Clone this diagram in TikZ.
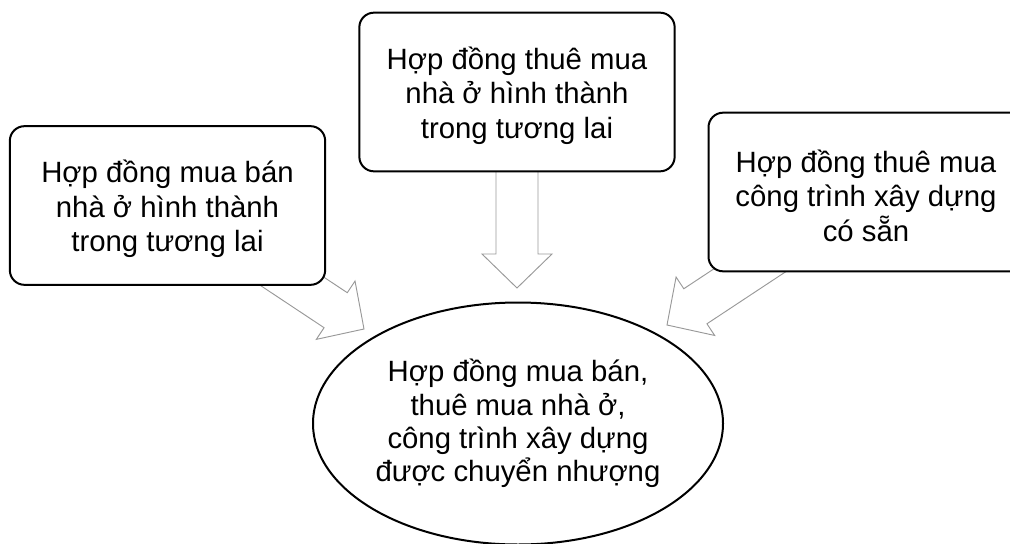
\documentclass[tikz,border=0pt]{standalone}
\usepackage{fontspec}
\setmainfont{Liberation Sans}
\usetikzlibrary{calc,shapes.geometric,backgrounds}
\tikzset{
  box/.style={draw=black, line width=1.5pt, rounded corners=11pt, fill=white,
    minimum width=236.5pt, minimum height=119pt, inner sep=0pt},
  boxtext/.style={align=center, inner sep=0pt, yshift=-2.6pt,
    font=\fontsize{22pt}{25.9pt}\selectfont},
  oval/.style={draw=black, line width=1.5pt, ellipse, fill=white,
    minimum width=307.5pt, minimum height=181.5pt, inner sep=0pt, align=center,
    font=\fontsize{22pt}{25pt}\selectfont},
  blockarrow/.style={draw=black!40, line width=0.7pt, fill=white, line join=miter}
}
\newcommand\blockarrow[2]{%
  \coordinate (hb) at ($(#2)!25.5pt!(#1)$);
  \draw[blockarrow]
    ($(#1)!15.75pt!90:(#2)$) --
    ($(hb)!15.75pt!-90:(#1)$) --
    ($(hb)!26.25pt!-90:(#1)$) --
    (#2) --
    ($(hb)!26.25pt!90:(#1)$) --
    ($(hb)!15.75pt!90:(#1)$) --
    ($(#1)!15.75pt!-90:(#2)$) -- cycle;
}
\begin{document}
\begin{tikzpicture}[x=0.75pt,y=-0.75pt]
\useasboundingbox (0,0) rectangle (1010,543);

\node[box, label={[boxtext]center:Hợp đồng mua bán\\nhà ở hình thành\\trong tương lai}] (left) at (167.5,205.5) {};
\node[box, label={[boxtext]center:Hợp đồng thuê mua\\nhà ở hình thành\\trong tương lai}] (top) at (517,92) {};
\node[box, minimum width=240pt, label={[boxtext, xshift=-1.9pt]center:Hợp đồng thuê mua\\công trình xây dựng\\có sẵn}] (right) at (868.5,192) {};
\node[oval] (center) at (518,423.5) {Hợp đồng mua bán,\\thuê mua nhà ở,\\công trình xây dựng\\được chuyển nhượng};

\coordinate (lt) at (251,254);
\coordinate (lh) at (364,329);
\coordinate (tt) at (517,100);
\coordinate (th) at (517,288);
\coordinate (rt) at (779,251);
\coordinate (rh) at (667,325);

\begin{pgfonlayer}{background}
\blockarrow{lt}{lh}
\blockarrow{tt}{th}
\blockarrow{rt}{rh}
\end{pgfonlayer}
\end{tikzpicture}
\end{document}
